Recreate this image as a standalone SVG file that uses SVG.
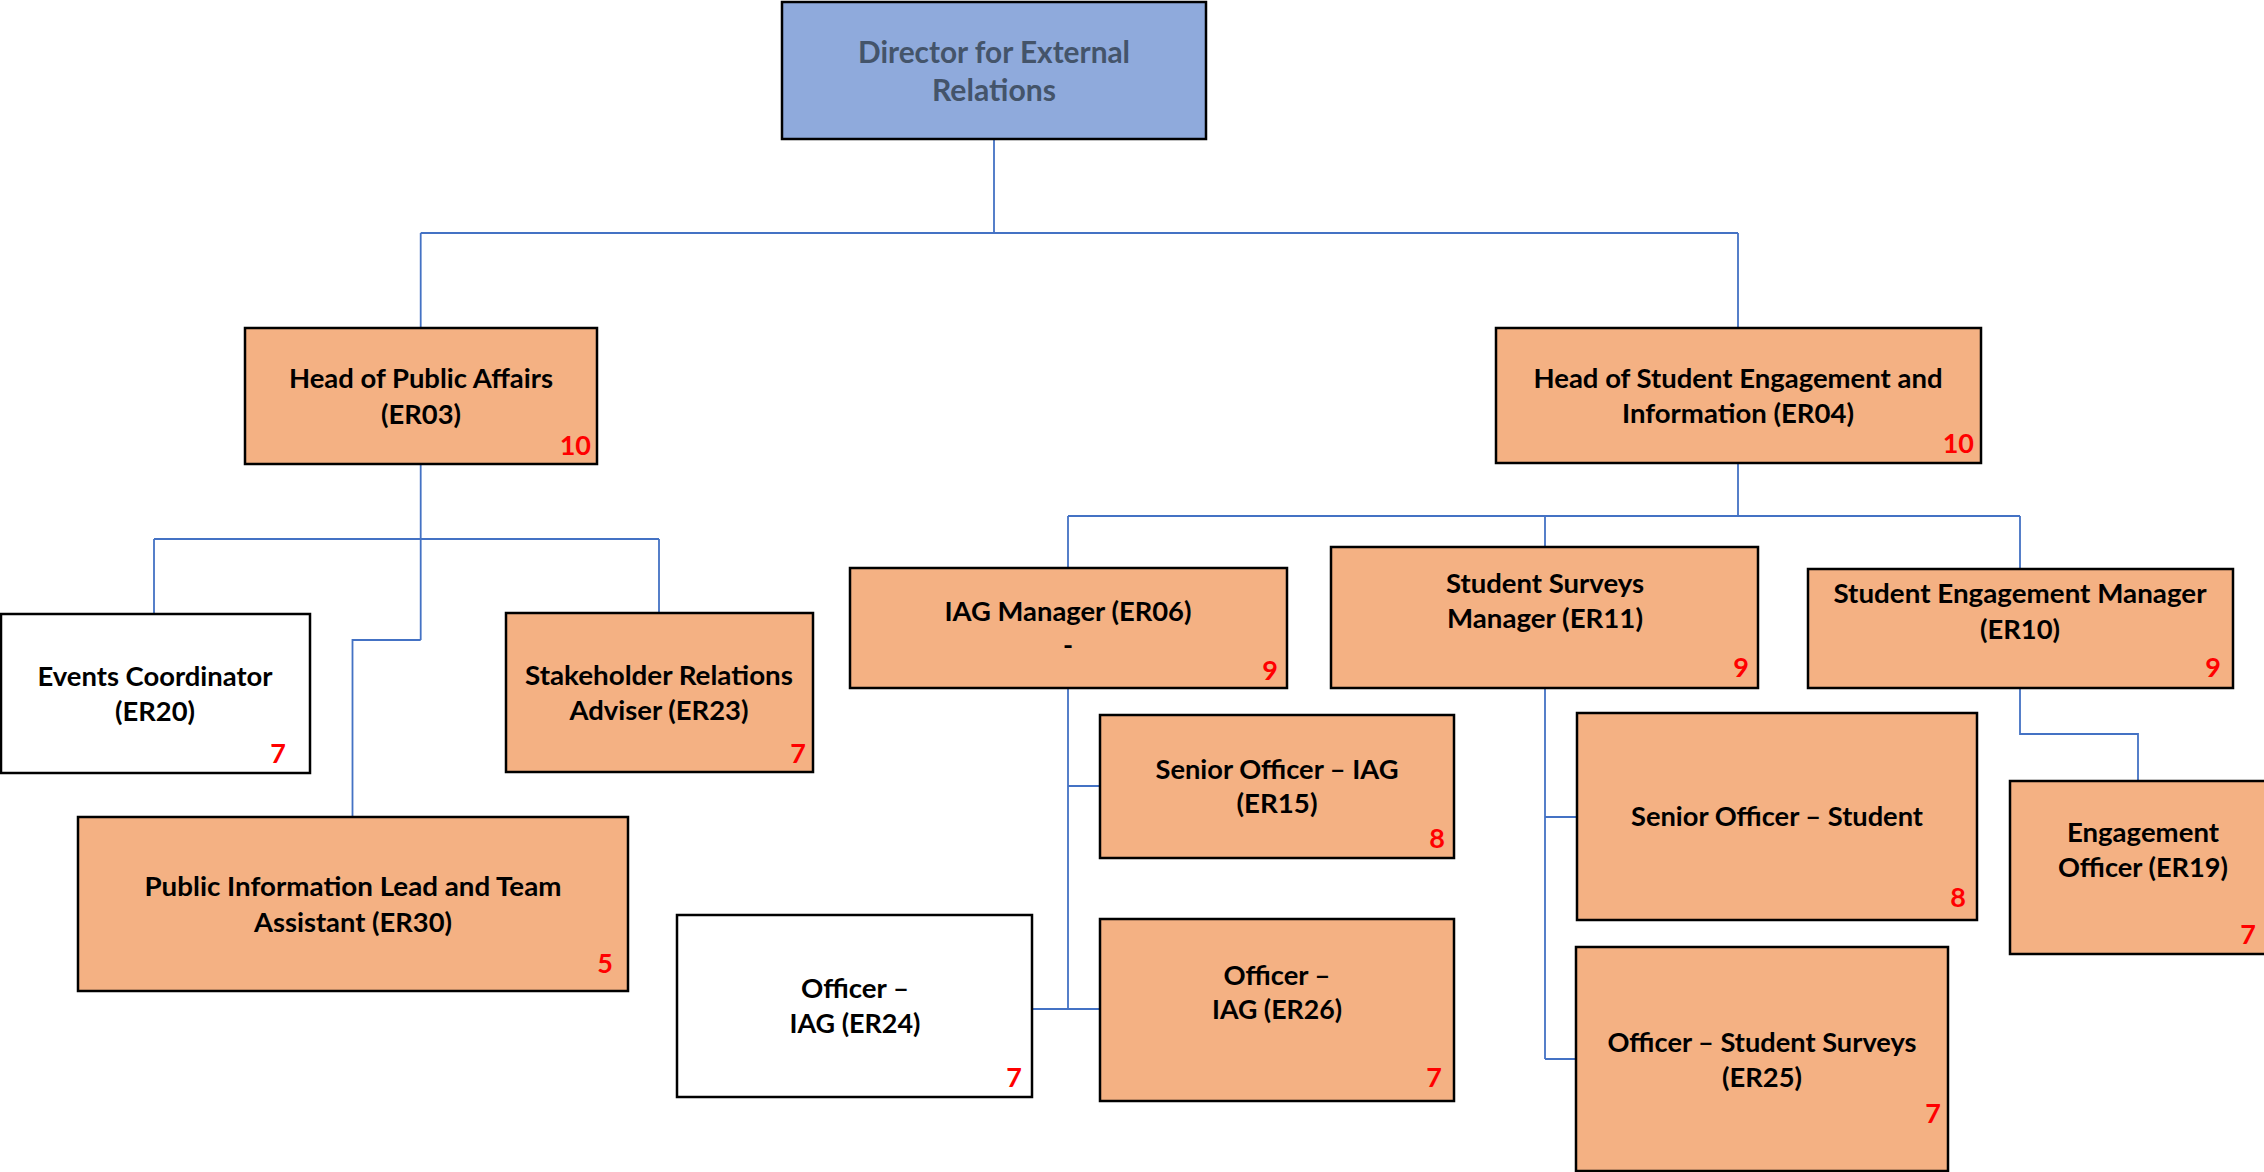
<svg xmlns="http://www.w3.org/2000/svg" width="2264" height="1172" viewBox="0 0 2264 1172">
<style>
.box{fill:#F4B183;stroke:#000;stroke-width:2.5}
.wbox{fill:#FFFFFF;stroke:#000;stroke-width:2.5}
.dbox{fill:#8FAADC;stroke:#000;stroke-width:2.5}
.t{font-family:Lato,"Liberation Sans",sans-serif;font-weight:bold;font-size:27px;fill:#000;text-anchor:middle}
.dt{font-family:Lato,"Liberation Sans",sans-serif;font-weight:bold;font-size:31px;fill:#44546A;text-anchor:middle}
.n{font-family:Lato,"Liberation Sans",sans-serif;font-weight:bold;font-size:27px;fill:#FF0000;text-anchor:end}
.c{fill:none;stroke:#4472C4;stroke-width:1.8}
</style>
<rect width="2264" height="1172" fill="#FFFFFF"/>
<g id="connectors">
<path class="c" d="M994 139V233M420.7 233H1738M420.7 233V328M1738 233V328"/>
<path class="c" d="M420.7 464V640M154 539H659M154 539V614M659 539V613M420.7 640H352.5V817"/>
<path class="c" d="M1738 463V516M1068 516H2020M1068 516V568M1545 516V547M2020 516V569"/>
<path class="c" d="M1068 688V1009M1068 786H1100M1068 1009H1100M1068 1009H1031V1048"/>
<path class="c" d="M1545 688V1059M1545 817H1577M1545 1059H1576"/>
<path class="c" d="M2020 688V734H2138V781"/>
</g>
<g id="director">
<rect class="dbox" x="782" y="2" width="424" height="137"/>
<text class="dt" x="994" y="63" textLength="272" lengthAdjust="spacingAndGlyphs">Director for External</text>
<text class="dt" x="994" y="101" textLength="124" lengthAdjust="spacingAndGlyphs">Relations</text>
</g>
<g id="er03">
<rect class="box" x="245" y="328" width="352" height="136"/>
<text class="t" x="421" y="388" textLength="264" lengthAdjust="spacingAndGlyphs">Head of Public Affairs</text>
<text class="t" x="421" y="424" textLength="80" lengthAdjust="spacingAndGlyphs">(ER03)</text>
<text class="n" x="591" y="455">10</text>
</g>
<g id="er04">
<rect class="box" x="1496" y="328" width="485" height="135"/>
<text class="t" x="1738" y="388" textLength="409" lengthAdjust="spacingAndGlyphs">Head of Student Engagement and</text>
<text class="t" x="1738" y="423" textLength="232" lengthAdjust="spacingAndGlyphs">Information (ER04)</text>
<text class="n" x="1974" y="453">10</text>
</g>
<g id="er20">
<rect class="wbox" x="1" y="614" width="309" height="159"/>
<text class="t" x="155" y="686" textLength="235" lengthAdjust="spacingAndGlyphs">Events Coordinator</text>
<text class="t" x="155" y="721" textLength="80" lengthAdjust="spacingAndGlyphs">(ER20)</text>
<text class="n" x="286" y="763">7</text>
</g>
<g id="er23">
<rect class="box" x="506" y="613" width="307" height="159"/>
<text class="t" x="659" y="685" textLength="268" lengthAdjust="spacingAndGlyphs">Stakeholder Relations</text>
<text class="t" x="659" y="720" textLength="179" lengthAdjust="spacingAndGlyphs">Adviser (ER23)</text>
<text class="n" x="806" y="763">7</text>
</g>
<g id="er30">
<rect class="box" x="78" y="817" width="550" height="174"/>
<text class="t" x="353" y="896" textLength="417" lengthAdjust="spacingAndGlyphs">Public Information Lead and Team</text>
<text class="t" x="353" y="932" textLength="198" lengthAdjust="spacingAndGlyphs">Assistant (ER30)</text>
<text class="n" x="613" y="973">5</text>
</g>
<g id="er06">
<rect class="box" x="850" y="568" width="437" height="120"/>
<text class="t" x="1068" y="621" textLength="247" lengthAdjust="spacingAndGlyphs">IAG Manager (ER06)</text>
<text class="t" x="1068" y="655">-</text>
<text class="n" x="1278" y="680">9</text>
</g>
<g id="er11">
<rect class="box" x="1331" y="547" width="427" height="141"/>
<text class="t" x="1545" y="593" textLength="198" lengthAdjust="spacingAndGlyphs">Student Surveys</text>
<text class="t" x="1545" y="628" textLength="196" lengthAdjust="spacingAndGlyphs">Manager (ER11)</text>
<text class="n" x="1749" y="677">9</text>
</g>
<g id="er10">
<rect class="box" x="1808" y="569" width="425" height="119"/>
<text class="t" x="2020" y="603" textLength="373" lengthAdjust="spacingAndGlyphs">Student Engagement Manager</text>
<text class="t" x="2020" y="639" textLength="80" lengthAdjust="spacingAndGlyphs">(ER10)</text>
<text class="n" x="2221" y="677">9</text>
</g>
<g id="er15">
<rect class="box" x="1100" y="715" width="354" height="143"/>
<text class="t" x="1277" y="779" textLength="243" lengthAdjust="spacingAndGlyphs">Senior Officer – IAG</text>
<text class="t" x="1277" y="813" textLength="81" lengthAdjust="spacingAndGlyphs">(ER15)</text>
<text class="n" x="1445" y="848">8</text>
</g>
<g id="er26">
<rect class="box" x="1100" y="919" width="354" height="182"/>
<text class="t" x="1277" y="985" textLength="107" lengthAdjust="spacingAndGlyphs">Officer –</text>
<text class="t" x="1277" y="1019" textLength="130" lengthAdjust="spacingAndGlyphs">IAG (ER26)</text>
<text class="n" x="1442" y="1087">7</text>
</g>
<g id="er24">
<rect class="wbox" x="677" y="915" width="355" height="182"/>
<text class="t" x="855" y="998" textLength="108" lengthAdjust="spacingAndGlyphs">Officer –</text>
<text class="t" x="855" y="1033" textLength="131" lengthAdjust="spacingAndGlyphs">IAG (ER24)</text>
<text class="n" x="1022" y="1087">7</text>
</g>
<g id="er_sos">
<rect class="box" x="1577" y="713" width="400" height="207"/>
<text class="t" x="1777" y="826" textLength="292" lengthAdjust="spacingAndGlyphs">Senior Officer – Student</text>
<text class="n" x="1966" y="907">8</text>
</g>
<g id="er25">
<rect class="box" x="1576" y="947" width="372" height="224"/>
<text class="t" x="1762" y="1052" textLength="309" lengthAdjust="spacingAndGlyphs">Officer – Student Surveys</text>
<text class="t" x="1762" y="1087" textLength="80" lengthAdjust="spacingAndGlyphs">(ER25)</text>
<text class="n" x="1941" y="1123">7</text>
</g>
<g id="er19">
<rect class="box" x="2010" y="781" width="266" height="173"/>
<text class="t" x="2143" y="842" textLength="152" lengthAdjust="spacingAndGlyphs">Engagement</text>
<text class="t" x="2143" y="877" textLength="170" lengthAdjust="spacingAndGlyphs">Officer (ER19)</text>
<text class="n" x="2256" y="944">7</text>
</g>
</svg>
